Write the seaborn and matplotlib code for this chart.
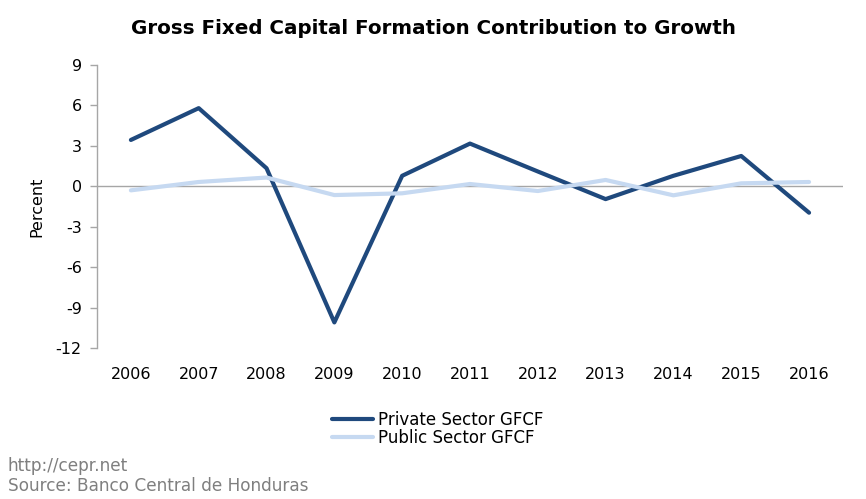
import numpy as np
import pandas as pd
import matplotlib
matplotlib.use("Agg")
import matplotlib.pyplot as plt
import seaborn as sns
from matplotlib.lines import Line2D

# data
years = ["2006", "2007", "2008", "2009", "2010", "2011", "2012", "2013", "2014", "2015", "2016"]
private_gfcf = [3.44, 5.8, 1.34, -10.1, 0.78, 3.17, 1.1, -0.95, 0.78, 2.25, -1.96]
public_gfcf = [-0.3, 0.32, 0.65, -0.65, -0.52, 0.17, -0.35, 0.47, -0.67, 0.22, 0.32]
series_names = ["Private Sector GFCF", "Public Sector GFCF"]
y_ticks = [-12, -9, -6, -3, 0, 3, 6, 9]

df = pd.DataFrame({
    "year": years * 2,
    "value": private_gfcf + public_gfcf,
    "series": [series_names[0]] * len(years) + [series_names[1]] * len(years),
})
df["pos"] = list(range(len(years))) * 2

sns.set_style("white")
plt.rcParams["font.family"] = ["DejaVu Sans"]
plt.rcParams["text.color"] = "black"
plt.rcParams["axes.labelcolor"] = "black"
plt.rcParams["xtick.color"] = "black"
plt.rcParams["ytick.color"] = "black"

fig = plt.figure(figsize=(8.66, 4.99), dpi=100)
ax = fig.add_axes([0.112, 0.3026, 0.8614, 0.5671])

palette = {series_names[0]: "#1F497D", series_names[1]: "#C6D9F1"}
ax.axhline(0, color="#A6A6A6", lw=1, zorder=1)
sns.lineplot(data=df, x="pos", y="value", hue="series", palette=palette,
             linewidth=3, ax=ax, legend=False, zorder=3, sort=False)

ax.set_xlim(-0.5, len(years) - 0.5)
ax.set_ylim(-12, 9)
ax.set_yticks(y_ticks)
ax.set_yticklabels([str(t) for t in y_ticks], fontsize=11.5)
ax.set_xticks(range(len(years)))
ax.set_xticklabels(years, fontsize=11.5)
ax.tick_params(axis="x", length=0, pad=14)
ax.tick_params(axis="y", length=5, width=1, color="#A6A6A6", direction="out", left=True, pad=6,
               labelcolor="black")

for s in ["top", "right", "bottom"]:
    ax.spines[s].set_visible(False)
ax.spines["left"].set_color("#A6A6A6")
ax.spines["left"].set_linewidth(1)

ax.set_xlabel("")
ax.set_ylabel("Percent", fontsize=11.5, labelpad=8)

fig.text(0.5, 0.942, "Gross Fixed Capital Formation Contribution to Growth",
         ha="center", va="center", fontsize=14.3, fontweight="bold")

handles = [Line2D([0], [0], color=palette[n], lw=3) for n in series_names]
fig.legend(handles, series_names, loc="center", bbox_to_anchor=(0.505, 0.14),
           frameon=False, fontsize=12, handlelength=2.5, handletextpad=0.25,
           labelspacing=0.0, borderpad=0)

fig.text(0.009, 0.066, "http://cepr.net", fontsize=12.2, color="#7F7F7F", va="center")
fig.text(0.009, 0.026, "Source: Banco Central de Honduras", fontsize=12.2, color="#7F7F7F", va="center")

fig.savefig("out.png", dpi=100)
